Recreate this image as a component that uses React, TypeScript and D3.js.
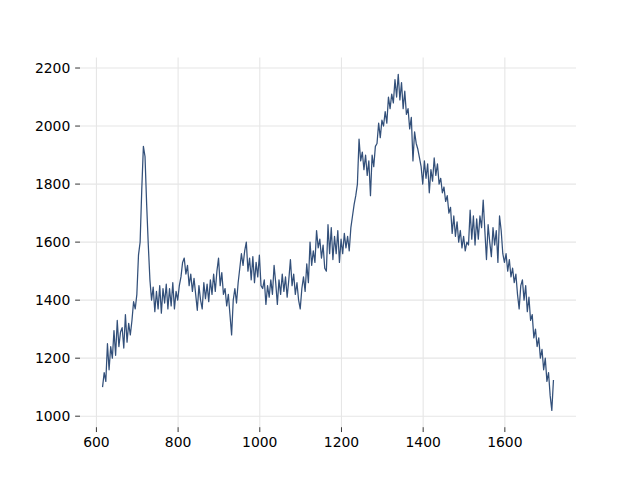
import React from "react";
import * as d3 from "d3";

const xStart = 615;
const xStep = 4;
const values: number[] = [
  1100, 1150, 1120, 1250, 1160, 1240, 1200, 1295, 1210, 1330,
  1240, 1290, 1305, 1235, 1350, 1255, 1320, 1280, 1330, 1395,
  1370, 1420, 1555, 1600, 1780, 1930, 1895, 1730, 1590, 1470,
  1400, 1445, 1360, 1430, 1370, 1450, 1355, 1440, 1390, 1455,
  1370, 1440, 1380, 1460, 1370, 1430, 1400, 1450, 1480, 1530,
  1545, 1490, 1520, 1450, 1490, 1430, 1475, 1420, 1365, 1450,
  1400, 1370, 1460, 1405, 1455, 1395, 1470, 1420, 1490, 1430,
  1500, 1545, 1450, 1495, 1420, 1440, 1380, 1420, 1350, 1280,
  1400, 1440, 1390, 1460, 1510, 1560, 1520, 1570, 1600, 1500,
  1545, 1470, 1550, 1460, 1530, 1480, 1555, 1450, 1440, 1470,
  1385, 1450, 1410, 1470, 1420, 1520, 1460, 1385, 1470, 1420,
  1490, 1430, 1480, 1410, 1470, 1540, 1450, 1490, 1420, 1460,
  1400, 1370, 1440, 1480, 1430, 1525, 1460, 1600, 1520, 1570,
  1530, 1640, 1580, 1610, 1545, 1590, 1510, 1500, 1660, 1560,
  1650, 1540, 1620, 1560, 1640, 1530, 1610, 1560, 1630, 1580,
  1620, 1570, 1650, 1690, 1730, 1760, 1800, 1955, 1880, 1910,
  1850, 1900, 1830, 1880, 1760, 1900, 1860, 1930, 1940, 2010,
  1960, 2020, 2000, 2050, 2010, 2100, 2060, 2110, 2080, 2160,
  2100, 2178, 2090, 2150, 2060, 2120, 2040, 2060, 1990, 2030,
  1880, 1980, 1940, 1920, 1890, 1860, 1800, 1880, 1820, 1870,
  1770, 1850, 1810, 1890, 1830, 1870, 1800, 1820, 1770, 1790,
  1740, 1760, 1700, 1720, 1630, 1690, 1620, 1670, 1600, 1640,
  1580, 1620, 1570, 1600, 1590, 1710, 1610, 1690, 1590, 1680,
  1610, 1690, 1650, 1745, 1640, 1540, 1660, 1600, 1550, 1650,
  1590, 1640, 1530, 1690, 1640, 1560, 1530, 1560, 1500, 1540,
  1480, 1510, 1460, 1490, 1420, 1370, 1450, 1470, 1400, 1450,
  1360, 1410, 1330, 1350, 1270, 1300, 1240, 1270, 1200, 1230,
  1160, 1200, 1120, 1150, 1070, 1020, 1125,
];
const xs: number[] = values.map((_, i) => xStart + i * xStep);
const xTicks = [600, 800, 1000, 1200, 1400, 1600];
const yTicks = [1000, 1200, 1400, 1600, 1800, 2000, 2200];

const W = 640;
const H = 480;
const left = 80, right = 576, top = 57.6, bottom = 427.2;

export default function App() {
  const [xmin, xmax] = d3.extent(xs) as [number, number];
  const [ymin, ymax] = d3.extent(values) as [number, number];
  const xm = (xmax - xmin) * 0.05;
  const ym = (ymax - ymin) * 0.05;
  const x = d3.scaleLinear().domain([xmin - xm, xmax + xm]).range([left, right]);
  const y = d3.scaleLinear().domain([ymin - ym, ymax + ym]).range([bottom, top]);
  const line = d3
    .line<number>()
    .x((_, i) => x(xs[i]))
    .y((d) => y(d));
  const tickLen = 4.86;
  const fs = 13.9;
  return (
    <div style={{ position: "fixed", left: 0, top: 0 }}>
      <svg width={W} height={H} style={{ display: "block", background: "#fff" }}>
        <g>
          {xTicks.map((t) => (
            <line key={"gx" + t} x1={x(t)} x2={x(t)} y1={top} y2={bottom} stroke="#e6e6e6" strokeWidth={1.1} />
          ))}
          {yTicks.map((t) => (
            <line key={"gy" + t} x1={left} x2={right} y1={y(t)} y2={y(t)} stroke="#e6e6e6" strokeWidth={1.1} />
          ))}
        </g>
        <path d={line(values) || ""} fill="none" stroke="#33507a" strokeWidth={1.25} strokeLinejoin="round" />
        <g fontFamily="DejaVu Sans" fontSize={fs} fill="#000">
          {xTicks.map((t) => (
            <g key={"tx" + t}>
              <line x1={x(t)} x2={x(t)} y1={bottom} y2={bottom + tickLen} stroke="#000" strokeWidth={0.8} />
              <text x={x(t)} y={bottom + tickLen + 4.86 + 10.4} textAnchor="middle">{t}</text>
            </g>
          ))}
          {yTicks.map((t) => (
            <g key={"ty" + t}>
              <line x1={left - tickLen} x2={left} y1={y(t)} y2={y(t)} stroke="#000" strokeWidth={0.8} />
              <text x={left - tickLen - 4.86} y={y(t) + 5} textAnchor="end">{t}</text>
            </g>
          ))}
        </g>
      </svg>
    </div>
  );
}
